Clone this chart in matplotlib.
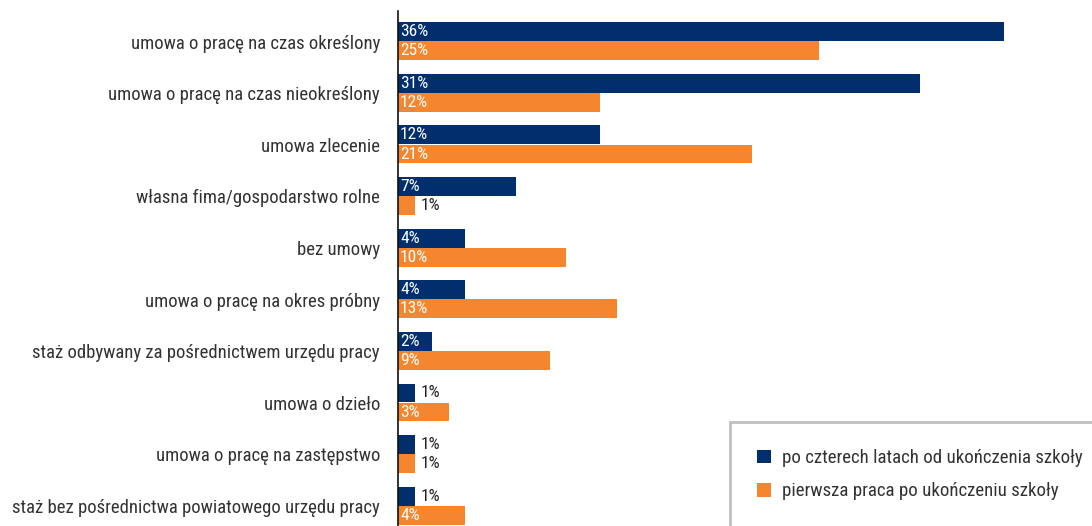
import matplotlib
matplotlib.use('Agg')
import matplotlib.pyplot as plt
from matplotlib.patches import Patch
from matplotlib import font_manager
import numpy as np

# contract types, top to bottom
categories = [
    'umowa o pracę na czas określony',
    'umowa o pracę na czas nieokreślony',
    'umowa zlecenie',
    'własna fima/gospodarstwo rolne',
    'bez umowy',
    'umowa o pracę na okres próbny',
    'staż odbywany za pośrednictwem urzędu pracy',
    'umowa o dzieło',
    'umowa o pracę na zastępstwo',
    'staż bez pośrednictwa powiatowego urzędu pracy',
]
after_four_years = [36, 31, 12, 7, 4, 4, 2, 1, 1, 1]
first_job = [25, 12, 21, 1, 10, 13, 9, 3, 1, 4]
series_labels = ['po czterech latach od ukończenia szkoły',
                 'pierwsza praca po ukończeniu szkoły']

NAVY = '#012f6e'
ORANGE = '#f6862e'
TEXT = '#333333'

# prefer a narrow face if one is around, else condensed DejaVu
names = {f.name for f in font_manager.fontManager.ttflist}
FONT, STRETCH = 'DejaVu Sans', 'condensed'
for cand in ('Roboto Condensed', 'Liberation Sans Narrow', 'Open Sans Condensed'):
    if cand in names:
        FONT, STRETCH = cand, 'normal'
        break
plt.rcParams['font.family'] = [FONT]
plt.rcParams['font.stretch'] = STRETCH

W, H = 1092, 526
fig = plt.figure(figsize=(W / 100, H / 100), dpi=100)
ax = fig.add_axes([398 / W, 0, (W - 398) / W, 515 / H])

y = np.arange(len(categories))
h = 0.365
ax.barh(y - 0.19, after_four_years, height=h, color=NAVY, label=series_labels[0])
ax.barh(y + 0.18, first_job, height=h, color=ORANGE, label=series_labels[1])

# value labels: inside in white, outside in dark for tiny bars
for vals, off in ((after_four_years, -0.19), (first_job, 0.18)):
    for yi, v in zip(y, vals):
        if v >= 2:
            ax.text(0.12, yi + off, f'{v}%', color='white', fontsize=12.5,
                    va='center', ha='left')
        else:
            ax.text(v + 0.35, yi + off, f'{v}%', color='#222222', fontsize=12.5,
                    va='center', ha='left')

ax.set_xlim(0, 41.2)
ax.set_ylim(9.388, -0.591)
ax.set_yticks(y)
ax.set_yticklabels(categories, fontsize=13.5, color=TEXT)
ax.tick_params(axis='y', length=0, pad=13)
ax.set_xticks([])
for s in ('top', 'right', 'bottom'):
    ax.spines[s].set_visible(False)
ax.spines['left'].set_color('#111111')
ax.spines['left'].set_linewidth(1.2)

# legend box runs off the right edge of the figure
handles = [Patch(facecolor=NAVY, edgecolor='none'), Patch(facecolor=ORANGE, edgecolor='none')]
leg = fig.legend(handles, series_labels, loc='upper left', mode='expand',
                 bbox_to_anchor=(730 / W, 0, 400 / W, 1 - 422 / H), frameon=True,
                 fancybox=False, edgecolor='#b0b0b0', fontsize=13.6,
                 handlelength=0.7, handleheight=0.7, handletextpad=0.6,
                 labelspacing=0.8, borderpad=1.45, borderaxespad=0)
leg.get_frame().set_linewidth(2)
for t in leg.get_texts():
    t.set_color(TEXT)

fig.savefig('out.png', dpi=100)
